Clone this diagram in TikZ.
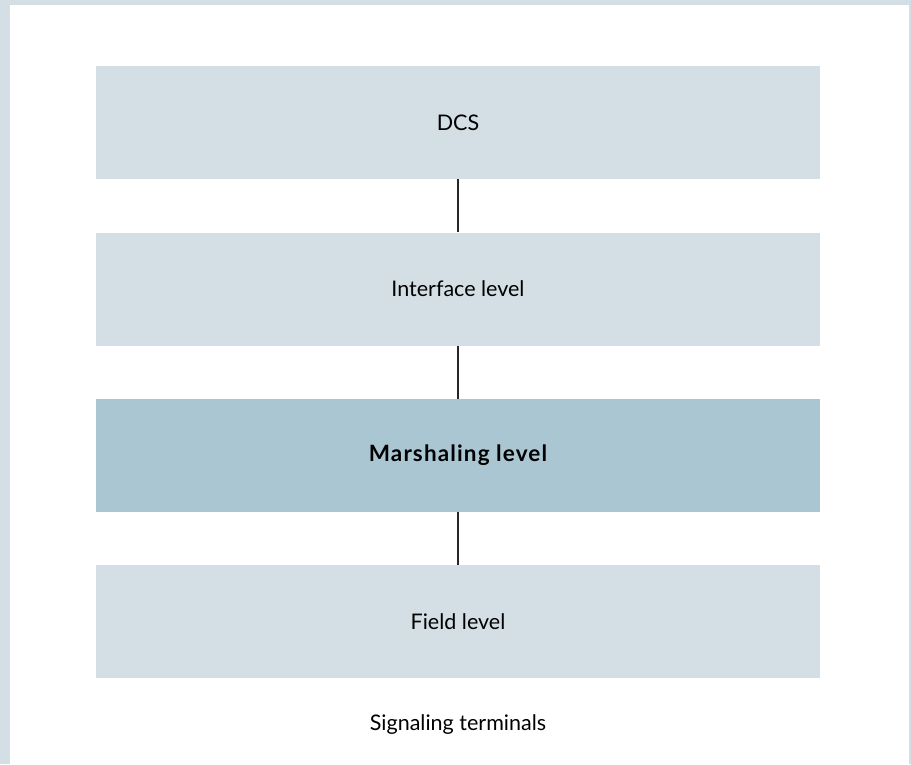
\documentclass[tikz,border=0pt]{standalone}
\usepackage{fontspec}
\setmainfont{Lato}
\usepackage{xcolor}
\usetikzlibrary{positioning}

\definecolor{framegray}{HTML}{D3DFE5}
\definecolor{levelgray}{HTML}{D3DFE5}
\definecolor{marshblue}{HTML}{A9C6D2}

\begin{document}
\begin{tikzpicture}[x=1pt, y=-1pt,
                    node distance=53pt,
                    level/.style={fill=levelgray, minimum width=724pt, minimum height=113pt,
                                  inner sep=0pt, font=\fontsize{21.5}{25}\selectfont},
                    marshaling/.style={level, fill=marshblue,
                                  font=\fontsize{22.5}{26}\selectfont\bfseries\addfontfeatures{LetterSpace=5}},
                    link/.style={draw=black!85, line width=1.3pt}]
  % frame
  \fill[framegray] (0,0) rectangle (911,764);
  \fill[white] (10,5) rectangle (909,764);
  \useasboundingbox (0,0) rectangle (911,764);

  \node[level, anchor=north] (dcs) at (458,66) {DCS};
  \node[level, below=of dcs] (interface) {Interface level};
  \node[marshaling, below=of interface] (marsh) {Marshaling level};
  \node[level, below=of marsh] (field) {Field level};
  \node[font=\fontsize{21.5}{25}\selectfont] (terminals) at (458,725) {Signaling terminals};

  \draw[link] (dcs) -- (interface);
  \draw[link] (interface) -- (marsh);
  \draw[link] (marsh) -- (field);
\end{tikzpicture}
\end{document}
